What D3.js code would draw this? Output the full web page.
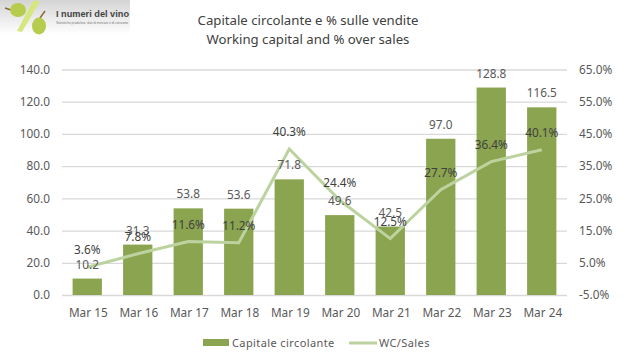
<!DOCTYPE html>
<html lang="en">
<head>
<meta charset="utf-8">
<title>Capitale circolante</title>
<script src="https://cdn.jsdelivr.net/npm/d3@7"></script>
<style>
    html, body { margin: 0; padding: 0; background: #fff; }
    svg { display: block; }
    text { font-family: "Noto Sans", sans-serif; }
    .axis path, .axis line { display: none; }
    .axis text { fill: #595959; font-size: 11.8px; font-family: "Noto Sans", sans-serif; }
    .grid line { stroke: #d9d9d9; stroke-width: 1.3; }
    .grid path { display: none; }
</style>
</head>
<body>
<script>
// data
var categories = ["Mar 15","Mar 16","Mar 17","Mar 18","Mar 19","Mar 20","Mar 21","Mar 22","Mar 23","Mar 24"];
var workingCapital = [10.2, 31.3, 53.8, 53.6, 71.8, 49.6, 42.5, 97.0, 128.8, 116.5];
var wcOverSales = [3.6, 7.8, 11.6, 11.2, 40.3, 24.4, 12.5, 27.7, 36.4, 40.1];
var leftTicks = [0, 20, 40, 60, 80, 100, 120, 140];
var rightTicks = [-5, 5, 15, 25, 35, 45, 55, 65];
var titleLines = ["Capitale circolante e % sulle vendite", "Working capital and % over sales"];
var seriesNames = ["Capitale circolante", "WC/Sales"];

var w = 630, h = 363;
// careful: "top" as a global is window.top, so these have a plot prefix
var plotLeft = 62, plotRight = 567, plotTop = 69.5, plotBottom = 295;
var barColor = "#8aa44f", lineColor = "#bcd3a0";

var svg = d3.select("body").append("svg").attr("width", w).attr("height", h);

var x = d3.scaleBand().domain(categories).range([plotLeft, plotRight]).paddingInner(0.42).paddingOuter(0.21);
var y = d3.scaleLinear().domain([0, 140]).range([plotBottom, plotTop]);
var y2 = d3.scaleLinear().domain([-5, 65]).range([plotBottom, plotTop]);

// logo
var defs = svg.append("defs");
var grad = defs.append("linearGradient").attr("id", "logoBg").attr("x1", 0).attr("y1", 0).attr("x2", 0).attr("y2", 1);
grad.append("stop").attr("offset", 0).attr("stop-color", "#d4d4d4");
grad.append("stop").attr("offset", 1).attr("stop-color", "#ffffff");
var logo = svg.append("g");
logo.append("rect").attr("width", 130).attr("height", 34).attr("fill", "url(#logoBg)");
logo.append("path").attr("d", "M5 8 L11 10").attr("stroke", "#8a6a3a").attr("stroke-width", 1.5);
logo.append("ellipse").attr("cx", 18).attr("cy", 10).attr("rx", 8).attr("ry", 7).attr("fill", "#b5cc4e");
logo.append("path").attr("d", "M33 1 L40 1 L22 32 L17 31 Z").attr("fill", "#d5e77e");
logo.append("path").attr("d", "M40 18 L45 11").attr("stroke", "#8a6a3a").attr("stroke-width", 1.5);
logo.append("ellipse").attr("cx", 39).attr("cy", 26).attr("rx", 7).attr("ry", 8.5).attr("fill", "#b5cc4e");
logo.append("text").attr("x", 56).attr("y", 17).attr("font-size", 9.2).attr("font-weight", 700)
    .style("font-family", "'Liberation Sans', sans-serif")
    .attr("fill", "#444").text("I numeri del vino");
logo.append("text").attr("x", 56).attr("y", 24).attr("font-size", 3.2)
    .style("font-family", "'Liberation Sans', sans-serif")
    .attr("fill", "#777").text("Statistiche produttive, dati di mercato e di consumo");

// title
svg.append("g").selectAll("text").data(titleLines).enter().append("text")
    .attr("x", 308)
    .attr("y", function(d, i) { return 25 + i * 19; })
    .attr("text-anchor", "middle")
    .attr("font-size", 13.2)
    .attr("fill", "#404040")
    .text(function(d) { return d; });

// gridlines
svg.append("g").attr("class", "grid")
    .attr("transform", "translate(" + plotLeft + ",0)")
    .call(d3.axisRight(y).tickValues(leftTicks).tickSize(plotRight - plotLeft).tickFormat(""));

// bars
svg.append("g").selectAll("rect").data(categories).enter().append("rect")
    .attr("x", function(d) { return x(d); })
    .attr("width", x.bandwidth())
    .attr("y", function(d, i) { return y(workingCapital[i]); })
    .attr("height", function(d, i) { return plotBottom - y(workingCapital[i]); })
    .attr("fill", barColor);

// line
var line = d3.line()
    .x(function(d, i) { return x(categories[i]) + x.bandwidth() / 2; })
    .y(function(d) { return y2(d); });
svg.append("path").datum(wcOverSales)
    .attr("d", line)
    .attr("fill", "none")
    .attr("stroke", lineColor)
    .attr("stroke-width", 3);

// axes
svg.append("g").attr("class", "axis")
    .attr("transform", "translate(" + (plotLeft - 12) + ",0)")
    .call(d3.axisLeft(y).tickValues(leftTicks).tickSize(0).tickPadding(0).tickFormat(d3.format(".1f")));
svg.append("g").attr("class", "axis")
    .attr("transform", "translate(" + (plotRight + 12) + ",0)")
    .call(d3.axisRight(y2).tickValues(rightTicks).tickSize(0).tickPadding(0).tickFormat(function(d) { return d.toFixed(1) + "%"; }));
svg.append("g").attr("class", "axis")
    .attr("transform", "translate(1," + (plotBottom + 14) + ")")
    .call(d3.axisBottom(x).tickSize(0).tickPadding(0));

// data labels
svg.append("g").selectAll("text").data(workingCapital).enter().append("text")
    .attr("x", function(d, i) { return x(categories[i]) + x.bandwidth() / 2; })
    .attr("y", function(d) { return y(d) - 10; })
    .attr("text-anchor", "middle")
    .attr("font-size", 11.8)
    .attr("fill", "#595959")
    .text(function(d) { return d.toFixed(1); });
svg.append("g").selectAll("text").data(wcOverSales).enter().append("text")
    .attr("x", function(d, i) { return x(categories[i]) + x.bandwidth() / 2; })
    .attr("y", function(d) { return y2(d) - 13; })
    .attr("text-anchor", "middle")
    .attr("font-size", 11.8)
    .attr("fill", "#404040")
    .text(function(d) { return d.toFixed(1) + "%"; });

// legend
var legend = svg.append("g");
legend.append("rect").attr("x", 203).attr("y", 339).attr("width", 26).attr("height", 7).attr("fill", barColor);
legend.append("text").attr("x", 232).attr("y", 347).attr("font-size", 11).attr("fill", "#595959")
    .attr("letter-spacing", 0.4).text(seriesNames[0]);
legend.append("line").attr("x1", 349).attr("x2", 377).attr("y1", 343).attr("y2", 343)
    .attr("stroke", lineColor).attr("stroke-width", 3);
legend.append("text").attr("x", 379).attr("y", 347).attr("font-size", 11).attr("fill", "#595959")
    .attr("letter-spacing", 0.4).text(seriesNames[1]);
</script>
</body>
</html>
